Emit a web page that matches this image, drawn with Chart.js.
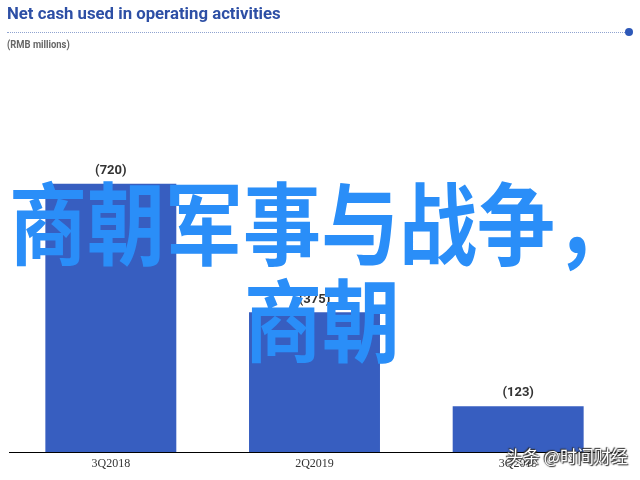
<!DOCTYPE html>
<html>
<head>
<meta charset="utf-8">
<script src="https://cdn.jsdelivr.net/npm/chart.js@4.4.0/dist/chart.umd.min.js"></script>
<style>
  html, body { margin: 0; padding: 0; background: #fff; }
  #wrap { position: relative; width: 640px; height: 480px; overflow: hidden; }
  #c { position: absolute; left: 0; top: 0; }
  #title { position: absolute; left: 7px; top: 3px; font: 700 17px Roboto, sans-serif; color: #2d4fa5; white-space: nowrap; transform-origin: 0 0; }
  #sub { position: absolute; left: 7px; top: 39px; font: 700 10px Roboto, sans-serif; color: #666; white-space: nowrap; transform-origin: 0 0; }
  #rule { position: absolute; left: 7px; top: 32px; width: 620px; height: 0; border-top: 1px dotted #8fa3d0; }
  #dot { position: absolute; left: 625px; top: 28px; width: 8px; height: 8px; border-radius: 50%; background: #2d58b8; }
  .ov { position: absolute; font-family: "Noto Sans CJK SC", sans-serif; font-weight: 700; font-size: 78px; line-height: 1; color: #2a8ef8; white-space: nowrap; transform-origin: 0 0; transform: scale(1, 1.15); }
  #wm { position: absolute; left: 506px; top: 446px; font: 400 17px "Noto Sans CJK SC", sans-serif; line-height: 1.2; color: #fff; white-space: nowrap;
        text-shadow: 0 0 2px #333, 1px 1px 1px #333, -1px -1px 1px #333; }
</style>
</head>
<body>
<div id="wrap">
  <canvas id="c" width="640" height="480"></canvas>
  <div id="title">Net cash used in operating activities</div>
  <div id="rule"></div>
  <div id="dot"></div>
  <div id="sub">(RMB millions)</div>
  <div class="ov" id="ov1" style="left:9px; top:174px;">商朝军事与战争，</div>
  <div class="ov" id="ov2" style="left:244px; top:271px;">商朝</div>
  <div id="wm">头条 @时间财经</div>
</div>
<script>
const categories = ["3Q2018", "2Q2019", "3Q2019"];
const netCashUsed = [720, 375, 123];

function fitWidth(id, target) {
  const el = document.getElementById(id);
  const w = el.offsetWidth;
  el.style.transform = 'scaleX(' + (target / w) + ')';
}
fitWidth('title', 274);
fitWidth('sub', 63);

const barLabels = {
  id: 'barLabels',
  afterDatasetsDraw(chart) {
    const ctx = chart.ctx;
    const meta = chart.getDatasetMeta(0);
    ctx.save();
    ctx.font = '700 13px Roboto, sans-serif';
    ctx.fillStyle = '#333';
    ctx.textAlign = 'center';
    ctx.textBaseline = 'middle';
    meta.data.forEach((bar, i) => {
      ctx.fillText('(' + chart.data.datasets[0].data[i] + ')', bar.x, bar.y - 13);
    });
    ctx.restore();
  }
};

new Chart(document.getElementById('c'), {
  type: 'bar',
  data: {
    labels: categories,
    datasets: [{
      data: netCashUsed,
      backgroundColor: '#375ec0',
      borderWidth: 0,
      barPercentage: 0.643,
      categoryPercentage: 1.0
    }]
  },
  options: {
    responsive: false,
    animation: false,
    layout: { padding: { left: 9, right: 20, top: 154, bottom: 0 } },
    plugins: { legend: { display: false }, tooltip: { enabled: false }, title: { display: false } },
    scales: {
      x: {
        grid: { display: false, drawTicks: false },
        border: { display: true, color: '#000', width: 1 },
        ticks: { padding: 5, color: '#333', font: { family: '"Liberation Serif", serif', size: 12 } },
        afterFit(scale) { scale.height = 28; }
      },
      y: { display: false, min: 0, max: 800 }
    }
  },
  plugins: [barLabels]
});
</script>
</body>
</html>
